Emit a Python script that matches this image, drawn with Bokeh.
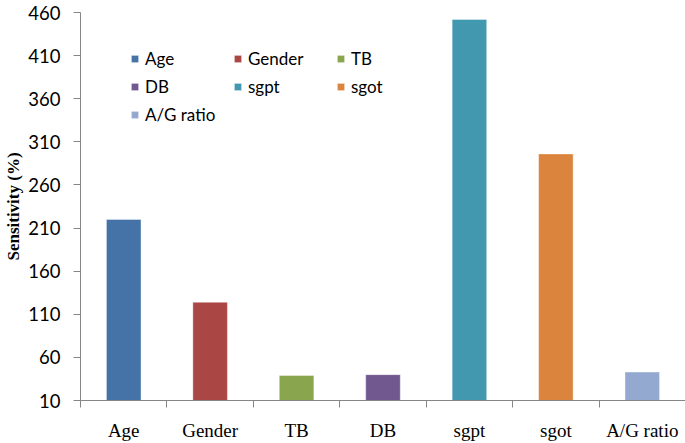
from bokeh.plotting import figure
from bokeh.models import ColumnDataSource, Range1d, FixedTicker, Legend, LegendItem
from bokeh.embed import file_html
from bokeh.resources import INLINE

categories = ["Age", "Gender", "TB", "DB", "sgpt", "sgot", "A/G ratio"]
sensitivity = [220, 124, 39, 40, 452, 296, 43]
colors = ["#4572A7", "#AA4643", "#89A54E", "#71588F", "#4198AF", "#DB843D", "#93A9CF"]
y_ticks = [10, 60, 110, 160, 210, 260, 310, 360, 410, 460]

n = len(categories)
xs = list(range(1, n + 1))
source = ColumnDataSource(dict(x=xs, top=sensitivity, cat=categories, color=colors))

p = figure(width=685, height=443, output_backend="svg", toolbar_location=None,
           x_range=Range1d(0.5, n + 0.5), y_range=Range1d(y_ticks[0], y_ticks[-1]),
           min_border_left=80, min_border_right=0, min_border_top=12, min_border_bottom=41)
p.outline_line_color = None
p.grid.visible = False
p.background_fill_color = "white"

r = p.vbar(x="x", top="top", bottom=y_ticks[0], width=0.4, fill_color="color",
           line_color="white", line_alpha=0.4, line_width=1, source=source)

gray = "#868686"
# y axis
p.yaxis.ticker = FixedTicker(ticks=y_ticks)
p.yaxis.major_tick_out = 7
p.yaxis.major_tick_in = 0
p.yaxis.minor_tick_line_color = None
p.yaxis.axis_line_color = gray
p.yaxis.major_tick_line_color = gray
p.yaxis.major_label_text_font = "Lato"
p.yaxis.major_label_text_font_size = "18.5px"
p.yaxis.major_label_text_color = "black"
p.yaxis.major_label_standoff = 13
p.yaxis.axis_label = "Sensitivity (%)"
p.yaxis.axis_label_text_font = "Liberation Serif"
p.yaxis.axis_label_text_font_style = "bold"
p.yaxis.axis_label_text_font_size = "17px"
p.yaxis.axis_label_text_color = "black"
p.yaxis.axis_label_standoff = 2

# x axis
p.xaxis.ticker = FixedTicker(ticks=xs, minor_ticks=[i + 0.5 for i in range(n + 1)])
p.xaxis.major_tick_line_color = None
p.xaxis.minor_tick_out = 7
p.xaxis.minor_tick_in = 0
p.xaxis.minor_tick_line_color = gray
p.xaxis.axis_line_color = gray
p.xaxis.major_label_overrides = {x: c for x, c in zip(xs, categories)}
p.xaxis.major_label_text_font = "Liberation Serif"
p.xaxis.major_label_text_font_size = "19px"
p.xaxis.major_label_text_color = "black"
p.xaxis.major_label_standoff = 12

items = [LegendItem(label=c, renderers=[r], index=i) for i, c in enumerate(categories)]
legend = Legend(items=items, ncols=3, orientation="horizontal", location=(50, 273),
                glyph_width=9, glyph_height=9, label_standoff=6, label_width=85,
                label_height=25, spacing=3, padding=0, margin=0,
                border_line_color=None, background_fill_alpha=0,
                label_text_font="Lato", label_text_font_size="17px",
                label_text_color="black")
p.add_layout(legend)

open("out.html", "w").write(file_html(p, INLINE))
